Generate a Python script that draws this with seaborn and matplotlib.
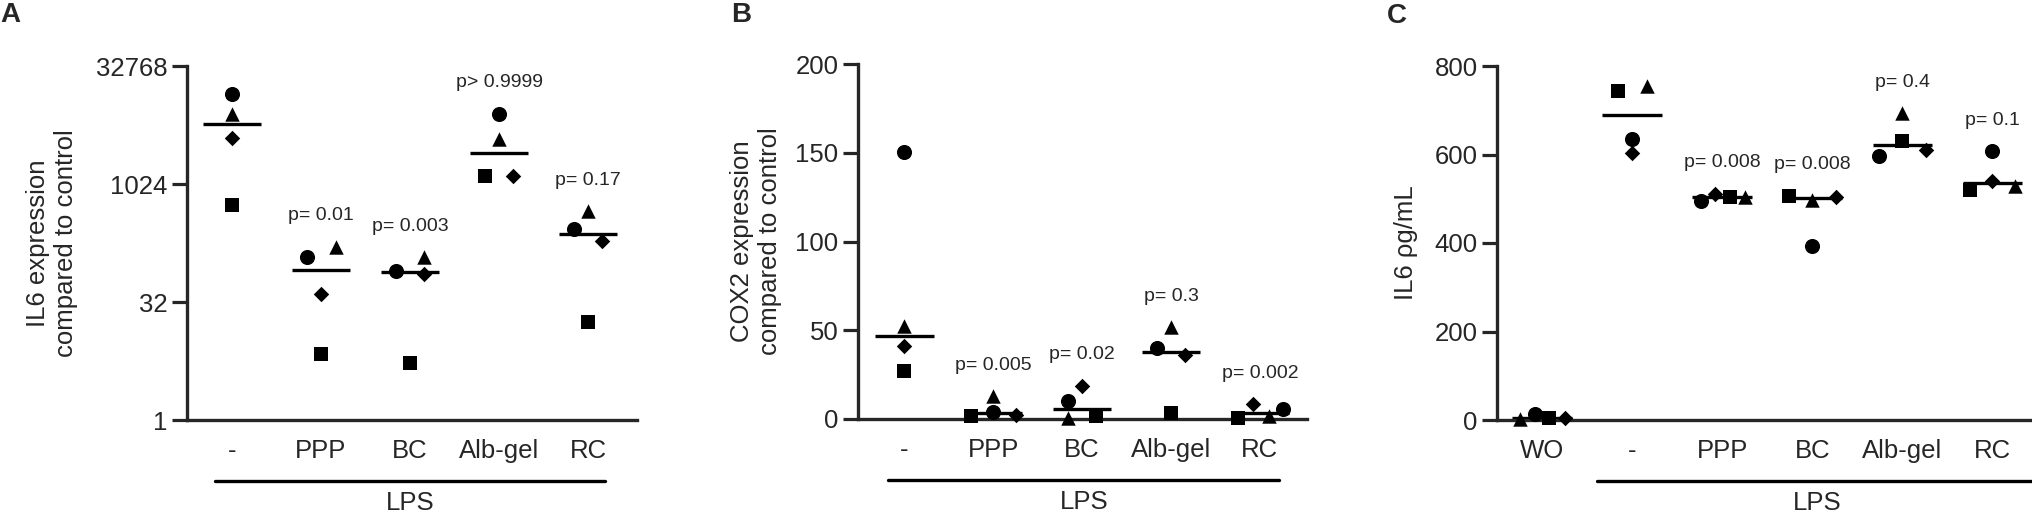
import numpy as np
import matplotlib
matplotlib.use("Agg")
import matplotlib.pyplot as plt
import seaborn as sb
from matplotlib.ticker import NullLocator

# values per donor (circle, square, triangle, diamond) for each group
groups_ab = ["-", "PPP", "BC", "Alb-gel", "RC"]
groups_c = ["WO", "-", "PPP", "BC", "Alb-gel", "RC"]
donors = ["circle", "square", "triangle", "diamond"]

il6_fold = {
    "-":       [14500, 550, 8100, 3960],
    "PPP":     [121, 7.0, 162, 40.5],
    "BC":      [80, 5.3, 119, 73],
    "Alb-gel": [8100, 1295, 3800, 1295],
    "RC":      [271, 18, 464, 194],
}
cox2_fold = {
    "-":       [150.4, 27.2, 52.2, 40.9],
    "PPP":     [3.9, 1.5, 12.8, 2.4],
    "BC":      [10.0, 1.5, 0.5, 18.8],
    "Alb-gel": [40.0, 3.4, 51.6, 35.9],
    "RC":      [5.8, 0.6, 1.5, 8.5],
}
il6_pg = {
    "WO":      [13, 4, 2, 4],
    "-":       [634, 744, 755, 603],
    "PPP":     [495, 503, 503, 511],
    "BC":      [393, 507, 497, 505],
    "Alb-gel": [597, 631, 693, 610],
    "RC":      [608, 520, 529, 541],
}

p_a = [None, "p= 0.01", "p= 0.003", "p> 0.9999", "p= 0.17"]
p_b = [None, "p= 0.005", "p= 0.02", "p= 0.3", "p= 0.002"]
p_c = [None, None, "p= 0.008", "p= 0.008", "p= 0.4", "p= 0.1"]

# horizontal spread of the points inside each column (layout only)
off_a = {
    "-":       [0, 0, 0, 0],
    "PPP":     [-0.16, 0, 0.17, 0],
    "BC":      [-0.16, 0, 0.16, 0.16],
    "Alb-gel": [0, -0.16, 0, 0.16],
    "RC":      [-0.16, 0, 0, 0.16],
}
off_b = {
    "-":       [0, 0, 0, 0],
    "PPP":     [0, -0.245, 0, 0.26],
    "BC":      [-0.16, 0.16, -0.16, 0],
    "Alb-gel": [-0.16, 0, 0, 0.16],
    "RC":      [0.26, -0.245, 0.1, -0.08],
}
off_c = {
    "WO":      [-0.08, 0.08, -0.25, 0.25],
    "-":       [0, -0.16, 0.17, 0],
    "PPP":     [-0.24, 0.09, 0.25, -0.08],
    "BC":      [0, -0.26, 0, 0.26],
    "Alb-gel": [-0.26, 0, 0, 0.26],
    "RC":      [0, -0.25, 0.25, 0],
}

markers = {"circle": ("o", 118), "square": ("s", 100), "triangle": ("^", 108), "diamond": ("D", 62)}

sb.set_style("ticks")
plt.rcParams["font.family"] = ["Liberation Sans", "DejaVu Sans"]

W, H = 2033, 514
fig = plt.figure(figsize=(W / 100, H / 100), dpi=100)


def px_axes(left, top, right, bottom):
    return fig.add_axes([left / W, 1 - bottom / H, (right - left) / W, (bottom - top) / H])


def draw_panel(ax, groups, data, offs, pvals, lps_span):
    for i, g in enumerate(groups):
        vals = data[g]
        for j, d in enumerate(donors):
            m, s = markers[d]
            sb.scatterplot(x=[i + offs[g][j]], y=[vals[j]], marker=m, s=s, color="black",
                           edgecolor="black", linewidth=0, ax=ax, clip_on=False, zorder=3)
        med = np.median(vals)
        ax.hlines(med, i - 0.33, i + 0.33, color="black", lw=2.4, zorder=2)
        if pvals[i]:
            ax.annotate(pvals[i], xy=(i, max(vals)), xytext=(0, 19), textcoords="offset points",
                        ha="center", va="baseline", fontsize=14)
    ax.set_xticks(range(len(groups)))
    ax.set_xticklabels(groups, fontsize=18.5)
    ax.tick_params(axis="x", length=0, pad=14)
    ax.tick_params(axis="y", length=11, width=2.3, labelsize=18.5, pad=3)
    for sp in ["left", "bottom"]:
        ax.spines[sp].set_linewidth(2.4)
    sb.despine(ax=ax)
    tr = ax.get_xaxis_transform()
    ax.plot(lps_span, [-0.172, -0.172], transform=tr, clip_on=False, color="black", lw=2.4)
    ax.text(np.mean(lps_span), -0.234, "LPS", transform=tr, ha="center", va="center", fontsize=18.5)


# A
axA = px_axes(187, 66, 637, 420)
axA.set_yscale("log", base=2)
draw_panel(axA, groups_ab, il6_fold, off_a, p_a, [-0.19, 4.19])
axA.set_ylim(1, 32768)
axA.set_xlim(-0.506, 4.55)
axA.set_yticks([1, 32, 1024, 32768])
axA.set_yticklabels(["1", "32", "1024", "32768"])
axA.yaxis.set_minor_locator(NullLocator())
axA.set_ylabel("IL6 expression\ncompared to control", fontsize=18.5, va="center", linespacing=1.2)
axA.yaxis.set_label_coords(-0.30, 0.5)

# B
axB = px_axes(858, 64, 1307, 419)
draw_panel(axB, groups_ab, cox2_fold, off_b, p_b, [-0.18, 4.22])
axB.set_ylim(0, 200)
axB.set_xlim(-0.52, 4.53)
axB.set_yticks([0, 50, 100, 150, 200])
axB.set_ylabel("COX2 expression\ncompared to control", fontsize=18.5, va="center", linespacing=1.2)
axB.yaxis.set_label_coords(-0.227, 0.5)

# C
axC = px_axes(1497, 66, 2033, 420)
draw_panel(axC, groups_c, il6_pg, off_c, p_c, [0.61, 5.5])
axC.set_ylim(0, 800)
axC.set_xlim(-0.5, 5.45)
axC.set_yticks([0, 200, 400, 600, 800])
axC.set_ylabel("IL6 \u03c1g/mL", fontsize=18.5, va="center")
axC.yaxis.set_label_coords(-0.169, 0.5)

for letter, x, y in [("A", 10, 15), ("B", 741, 15), ("C", 1397, 16)]:
    fig.text(x / W, 1 - y / H, letter, fontsize=20, fontweight="bold", ha="center", va="center")

fig.savefig("out.png", dpi=100)
